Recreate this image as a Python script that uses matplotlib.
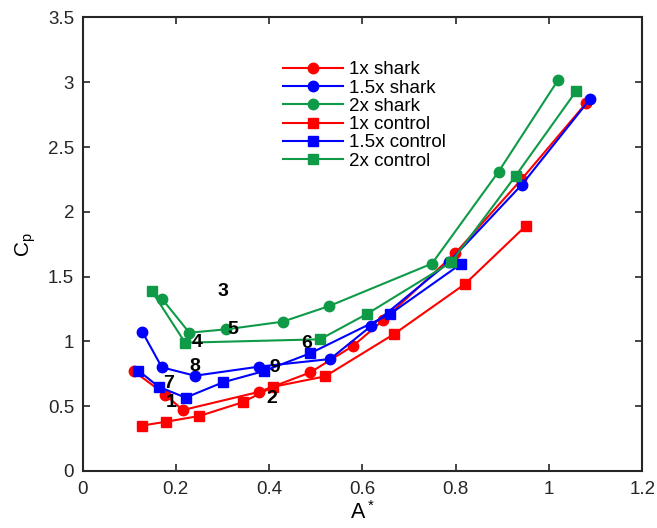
import matplotlib
matplotlib.use('Agg')
import matplotlib.pyplot as plt

plt.rcParams['font.family'] = ['Liberation Sans', 'DejaVu Sans']
plt.rcParams['mathtext.default'] = 'regular'

red = '#ff0000'
blue = '#0000ff'
green = '#0f9a48'

# 1x shark
x_1s = [0.110, 0.177, 0.215, 0.378, 0.488, 0.580, 0.645, 0.799, 0.941, 1.080]
y_1s = [0.77, 0.59, 0.47, 0.61, 0.76, 0.965, 1.165, 1.68, 2.25, 2.84]
# 1.5x shark
x_15s = [0.128, 0.170, 0.241, 0.378, 0.531, 0.619, 0.785, 0.942, 1.088]
y_15s = [1.075, 0.80, 0.735, 0.805, 0.864, 1.12, 1.61, 2.21, 2.87]
# 2x shark
x_2s = [0.170, 0.229, 0.308, 0.429, 0.529, 0.749, 0.892, 1.020]
y_2s = [1.33, 1.067, 1.093, 1.152, 1.273, 1.60, 2.31, 3.02]
# 1x control
x_1c = [0.127, 0.179, 0.250, 0.343, 0.409, 0.520, 0.668, 0.820, 0.950]
y_1c = [0.35, 0.38, 0.424, 0.53, 0.65, 0.73, 1.057, 1.443, 1.89]
# 1.5x control
x_15c = [0.120, 0.163, 0.221, 0.301, 0.388, 0.488, 0.659, 0.812]
y_15c = [0.774, 0.65, 0.566, 0.684, 0.77, 0.908, 1.21, 1.60]
# 2x control
x_2c = [0.148, 0.220, 0.509, 0.609, 0.790, 0.929, 1.058]
y_2c = [1.39, 0.99, 1.016, 1.21, 1.61, 2.28, 2.93]

# numbered annotations
num_text = ['1', '2', '3', '4', '5', '6', '7', '8', '9']
num_x = [0.191, 0.406, 0.302, 0.245, 0.322, 0.481, 0.184, 0.241, 0.413]
num_y = [0.527, 0.561, 1.383, 0.99, 1.093, 0.985, 0.677, 0.804, 0.80]

fig = plt.figure(figsize=(6.57, 5.28), dpi=100)
ax = fig.add_axes([0.1256, 0.108, 0.852, 0.859])

lw = 1.5
ax.plot(x_1s, y_1s, '-o', color=red, lw=lw, ms=7.5, label='1x shark')
ax.plot(x_15s, y_15s, '-o', color=blue, lw=lw, ms=7.5, label='1.5x shark')
ax.plot(x_2s, y_2s, '-o', color=green, lw=lw, ms=7.5, label='2x shark')
ax.plot(x_1c, y_1c, '-s', color=red, lw=lw, ms=6.5, label='1x control')
ax.plot(x_15c, y_15c, '-s', color=blue, lw=lw, ms=6.5, label='1.5x control')
ax.plot(x_2c, y_2c, '-s', color=green, lw=lw, ms=6.5, label='2x control')

for t, xx, yy in zip(num_text, num_x, num_y):
    ax.text(xx, yy, t, fontsize=14, fontweight='bold', ha='center', va='center')

ax.set_xlim(0, 1.2)
ax.set_ylim(0, 3.5)
xt = [0, 0.2, 0.4, 0.6, 0.8, 1, 1.2]
yt = [0, 0.5, 1, 1.5, 2, 2.5, 3, 3.5]
ax.set_xticks(xt)
ax.set_xticklabels(['0', '0.2', '0.4', '0.6', '0.8', '1', '1.2'])
ax.set_yticks(yt)
ax.set_yticklabels(['0', '0.5', '1', '1.5', '2', '2.5', '3', '3.5'])
ax.tick_params(direction='in', top=True, right=True, labelsize=13.5,
               length=5, width=1.2, colors='#262626', pad=6)
ax.tick_params(axis='x', pad=7.5)
for s in ax.spines.values():
    s.set_linewidth(1.5)
    s.set_color('#262626')

ax.set_xlabel('A$^*$', fontsize=15.5, labelpad=2)
ax.set_ylabel('C$_p$', fontsize=15, labelpad=7)

ax.legend(loc='upper left', bbox_to_anchor=(0.419, 0.898),
          bbox_transform=fig.transFigure, frameon=False, fontsize=13.5,
          handlelength=3.2, labelspacing=0.06, handletextpad=0.35,
          borderaxespad=0)

fig.savefig('out.png', dpi=100)
